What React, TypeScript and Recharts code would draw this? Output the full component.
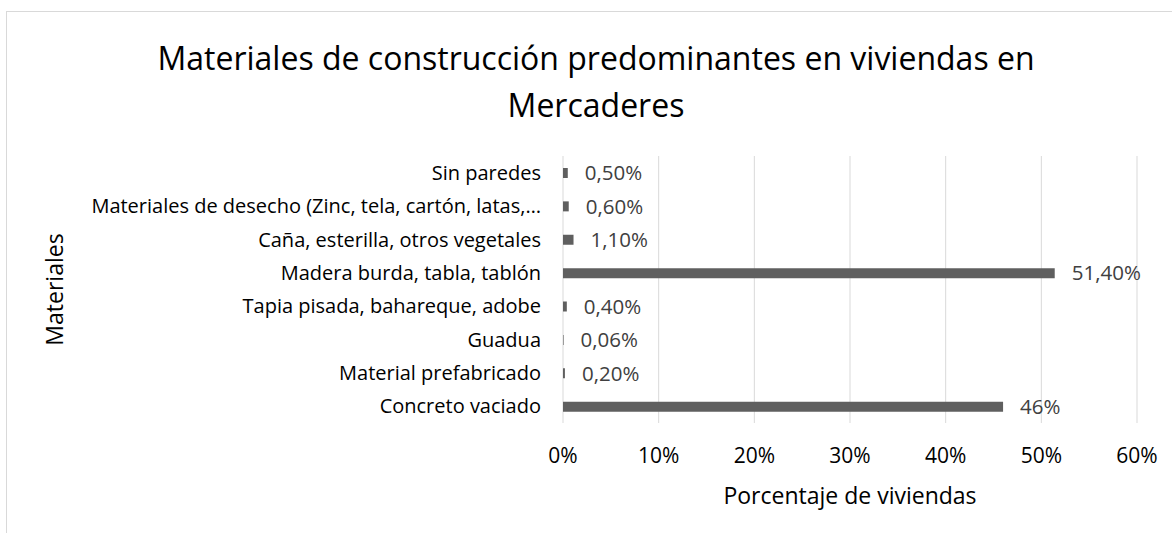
import { BarChart, Bar, XAxis, YAxis, CartesianGrid, LabelList, Label } from 'recharts';

const categories = [
  'Sin paredes',
  'Materiales de desecho (Zinc, tela, cartón, latas,…',
  'Caña, esterilla, otros vegetales',
  'Madera burda, tabla, tablón',
  'Tapia pisada, bahareque, adobe',
  'Guadua',
  'Material prefabricado',
  'Concreto vaciado',
];
const values = [0.5, 0.6, 1.1, 51.4, 0.4, 0.06, 0.2, 46];
const valueLabels = ['0,50%', '0,60%', '1,10%', '51,40%', '0,40%', '0,06%', '0,20%', '46%'];
const xTicks = [0, 10, 20, 30, 40, 50, 60];

const data = categories.map((name, i) => ({ name, value: values[i], label: valueLabels[i] }));

const FONT = '"Open Sans", Lato, sans-serif';
const TEXT = '#404040';

export default function App() {
  return (
    <div
      style={{
        position: 'absolute',
        top: 0,
        left: 0,
        width: 1172,
        height: 533,
        overflow: 'hidden',
        background: '#fff',
        fontFamily: FONT,
      }}
    >
      <div
        style={{
          position: 'absolute',
          left: 6,
          top: 11,
          width: 1300,
          height: 700,
          border: '1px solid #d9d9d9',
        }}
      />
      <div
        style={{
          position: 'absolute',
          top: 34,
          left: 0,
          width: 1192,
          textAlign: 'center',
          fontSize: 32,
          lineHeight: '47px',
          color: '#000',
        }}
      >
        Materiales de construcción predominantes en viviendas en
        <br />
        Mercaderes
      </div>
      <div style={{ position: 'absolute', top: 0, left: 0 }}>
        <BarChart
          width={1172}
          height={533}
          layout="vertical"
          data={data}
          margin={{ top: 156, right: 35, bottom: 22, left: 0 }}
        >
          <CartesianGrid horizontal={false} stroke="#d9d9d9" />
          <XAxis
            type="number"
            domain={[0, 60]}
            ticks={xTicks}
            tickFormatter={(v) => `${v}%`}
            axisLine={false}
            tickLine={false}
            tickSize={0}
            tickMargin={25}
            height={88}
            tick={{ fontSize: 21, fill: '#000', fontFamily: FONT }}
          >
            <Label
              value="Porcentaje de viviendas"
              position="insideBottom"
              offset={7}
              style={{ fontSize: 23, fill: '#000', fontFamily: FONT }}
            />
          </XAxis>
          <YAxis
            type="category"
            dataKey="name"
            width={563}
            axisLine={false}
            tickLine={false}
            tickSize={0}
            tickMargin={22}
            interval={0}
            tick={{ fontSize: 20, fill: '#000', fontFamily: FONT }}
          >
            <Label
              value="Materiales"
              angle={-90}
              position="insideLeft"
              offset={55}
              style={{ fontSize: 23, fill: '#000', fontFamily: FONT, textAnchor: 'middle' }}
            />
          </YAxis>
          <Bar dataKey="value" fill="#5f5f5f" barSize={10} isAnimationActive={false}>
            <LabelList
              dataKey="label"
              position="right"
              offset={17}
              style={{ fontSize: 20.5, fill: TEXT, fontFamily: FONT }}
            />
          </Bar>
        </BarChart>
      </div>
    </div>
  );
}
